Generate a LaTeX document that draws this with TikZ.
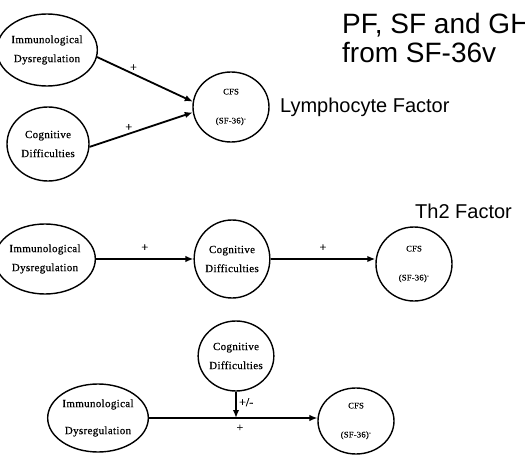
\documentclass[tikz,border=0pt]{standalone}
\usepackage{fontspec}
\setmainfont{Liberation Serif}
\newfontfamily\headfont{Liberation Sans}
\newfontfamily\circfont[LetterSpace=3,FakeBold=0.6]{Liberation Serif}
\newfontfamily\signfont[FakeBold=0.8]{Liberation Serif}
\usetikzlibrary{shapes.geometric,arrows.meta}
\begin{document}
\begin{tikzpicture}[x=1pt,y=-1pt,
  var/.style={ellipse,draw,line width=1.4pt,inner sep=0pt,align=center,
    font=\circfont\fontsize{11}{19}\selectfont},
  widevar/.style={var,font=\circfont\fontsize{11}{27}\selectfont},
  outcome/.style={var,font=\circfont\fontsize{8.5}{29}\selectfont},
  link/.style={line width=1.8pt,-{Latex[length=8pt,width=6.5pt]}},
  sign/.style={font=\signfont\fontsize{12}{12}\selectfont,inner sep=2pt},
  heading/.style={font=\headfont\fontsize{28}{28}\selectfont,anchor=base west,inner sep=0pt},
  tag/.style={font=\headfont\fontsize{20}{20}\selectfont,anchor=base west,inner sep=0pt}]
\useasboundingbox (0,0) rectangle (525,455);

% Title and factor labels
\node[heading] (title1) at (342,34) {PF, SF and GH};
\node[heading] (title2) at (342,62) {from SF-36v};
\node[tag] (lym) at (280,112) {Lymphocyte Factor};
\node[tag] (th2) at (415,218) {Th2 Factor};

% Lymphocyte factor: two converging paths
\node[var,minimum width=82pt,minimum height=72pt] (imm1) at (47,50) {Immunological\\Dysregulation};
\node[var,minimum width=82pt,minimum height=74pt] (cog1) at (48,144) {Cognitive\\Difficulties};
\node[outcome,minimum width=76pt,minimum height=70pt] (cfs1) at (231,107) {CFS\\(SF-36)\textsuperscript{-}};
\draw[link] (imm1.-8) -- node[sign,above,pos=0.38] {+} (cfs1.172);
\draw[link] (cog1.-4) -- node[sign,above,pos=0.38] {+} (cfs1.188);

% Th2 factor: mediated chain
\node[var,minimum width=86pt,minimum height=70pt] (imm2) at (45,259) {Immunological\\Dysregulation};
\node[var,minimum width=72pt,minimum height=78pt] (cog2) at (232,259) {Cognitive\\Difficulties};
\node[outcome,minimum width=76pt,minimum height=74pt] (cfs2) at (414,264) {CFS\\(SF-36)\textsuperscript{-}};
\draw[link] (imm2) -- node[sign,above=5pt] {+} (cog2);
\draw[link] (cog2) -- node[sign,above=5pt] {+} (cfs2.west |- cog2);

% Moderated path
\node[var,minimum width=72pt,minimum height=70pt] (cog3) at (236,356) {Cognitive\\Difficulties};
\node[widevar,minimum width=86pt,minimum height=68pt] (imm3) at (98,418) {Immunological\\Dysregulation};
\node[outcome,minimum width=76pt,minimum height=66pt] (cfs3) at (356,421) {CFS\\(SF-36)\textsuperscript{-}};
\coordinate (join) at (cog3 |- imm3);
\draw[line width=1.2pt,-{Latex[length=8pt,width=6.5pt]}] (imm3) -- node[sign,below=4pt,pos=0.54] {+} (cfs3.west |- imm3);
\draw[link,line width=2.2pt] (cog3) -- node[sign,right,pos=0.4] {+/-} (join);
\end{tikzpicture}
\end{document}
